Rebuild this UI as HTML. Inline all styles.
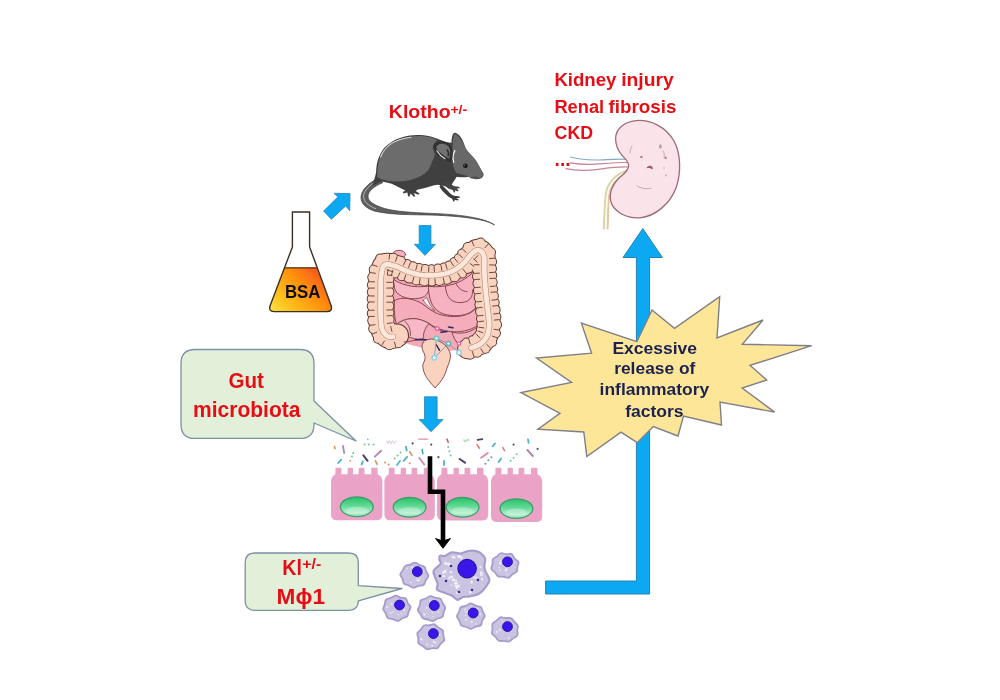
<!DOCTYPE html>
<html lang="en">
<head>
<meta charset="utf-8">
<title>Klotho gut microbiota kidney injury diagram</title>
<style>
  html, body { margin: 0; padding: 0; background: #ffffff; }
  body { width: 1000px; height: 700px; overflow: hidden; }
  svg { display: block; }
  text { font-family: "Liberation Sans", sans-serif; font-weight: bold; }
  .red { fill: #e60f14; }
  .navy { fill: #1b2350; }
</style>
</head>
<body>
<svg width="1000" height="700" viewBox="0 0 1000 700">
  <defs>
    <linearGradient id="liq" x1="0.05" y1="1" x2="1" y2="0.35">
      <stop offset="0" stop-color="#ffe040"/>
      <stop offset="0.3" stop-color="#ffbb18"/>
      <stop offset="0.65" stop-color="#ff8f0e"/>
      <stop offset="1" stop-color="#f9541a"/>
    </linearGradient>
    <linearGradient id="nuc" x1="0" y1="0" x2="0" y2="1">
      <stop offset="0" stop-color="#27c268"/>
      <stop offset="0.45" stop-color="#62d996"/>
      <stop offset="0.8" stop-color="#b4eecd"/>
      <stop offset="1" stop-color="#8fe3b5"/>
    </linearGradient>
    <filter id="soft" x="0" y="0" width="1000" height="700" filterUnits="userSpaceOnUse"><feGaussianBlur stdDeviation="0.55"/></filter>
  </defs>
  <rect width="1000" height="700" fill="#ffffff"/>
  <g id="art" filter="url(#soft)">

  <!-- ===== big blue L arrow (behind starburst) ===== -->
  <g id="bigarrow">
    <path d="M545.6,581 H636.4 V257.5 H623 L642.8,228.6 L662.4,257.5 H649.6 V594 H545.6 Z" fill="#0da8f2" stroke="#2683b6" stroke-width="1"/>
  </g>

  <!-- ===== starburst ===== -->
  <g id="burst">
    <polygon points="652,310 674.5,328.3 719.7,296.7 717,338 763,320 742.3,344.3 811.7,345.7 750,365.4 766.7,380 742.1,388 774.6,412.1 720,402 721.5,425 683.5,416 678,436 653.3,426.6 637.2,442.7 621,432.2 586.8,456.6 583.8,432 538,429.1 560,413.4 521,392.5 571.6,382.5 536.5,358 591.6,353.2 581.4,323.1 636.9,341.7" fill="#fee699" stroke="#7f7f88" stroke-width="1.4" stroke-linejoin="miter"/>
    <g class="navy" font-size="17.3">
      <text x="612.4" y="353.8" textLength="84.6" lengthAdjust="spacingAndGlyphs">Excessive</text>
      <text x="614.2" y="374.2" textLength="81.2" lengthAdjust="spacingAndGlyphs">release of</text>
      <text x="599.6" y="395.2" textLength="109.6" lengthAdjust="spacingAndGlyphs">inflammatory</text>
      <text x="625.2" y="416.5" textLength="58.4" lengthAdjust="spacingAndGlyphs">factors</text>
    </g>
  </g>

  <!-- ===== small blue arrows ===== -->
  <g id="arrows" fill="#0da8f2" stroke="#2683b6" stroke-width="0.8" stroke-linejoin="miter">
    <path d="M323.6,211 L337.8,197 L334,193.3 L350,193.6 L349.7,210.7 L345.7,206 L331.4,219.2 Z"/>
    <path d="M419.2,225.6 H430.9 V244.3 H435.4 L425,255.4 L414.3,244.3 H419.2 Z"/>
    <path d="M424.5,396.8 H437.1 V419.6 H443 L431,431.7 L419.2,419.6 H424.5 Z"/>
  </g>

  <!-- ===== flask ===== -->
  <g id="flask">
    <path d="M284.4,267.6 H316.6 L331.3,306 Q332.5,311.6 327,311.6 H274 Q268.7,311.6 270,306 Z" fill="url(#liq)"/>
    <path d="M292.4,212 H309.6 V247 L331.3,306 Q332.5,311.6 327,311.6 H274 Q268.7,311.6 270,306 L292.4,247 Z" fill="none" stroke="#3a2f22" stroke-width="1.4" stroke-linejoin="round"/>
    <path d="M284.4,267.8 H316.6" stroke="#4a3418" stroke-width="1.2" fill="none"/>
    <text x="302.7" y="297.7" font-size="19" text-anchor="middle" fill="#111111" textLength="35.5" lengthAdjust="spacingAndGlyphs">BSA</text>
  </g>

  <!-- ===== callouts ===== -->
  <g id="callouts" fill="#e2f0d9" stroke="#7b90a6" stroke-width="1.3" stroke-linejoin="round">
    <path d="M195,349.5 H300 Q314,349.5 314,363.5 V401 L356,441 L314,423 V424.4 Q314,438.4 300,438.4 H195 Q181,438.4 181,424.4 V363.5 Q181,349.5 195,349.5 Z"/>
    <path d="M254.8,553 H348.7 Q358.3,553 358.3,562.6 V585.6 L402,588.5 L358.3,600.8 V600.8 Q358.3,610.3 348.7,610.3 H254.8 Q245.2,610.3 245.2,600.7 V562.6 Q245.2,553 254.8,553 Z"/>
  </g>

  <!-- ===== red labels ===== -->
  <g id="labels" class="red">
    <text x="228.4" y="387.8" font-size="21.6" textLength="35.4" lengthAdjust="spacingAndGlyphs">Gut</text>
    <text x="193" y="417.2" font-size="22.4" textLength="107.4" lengthAdjust="spacingAndGlyphs">microbiota</text>
    <text x="388.8" y="118.4" font-size="19.2" textLength="61.8" lengthAdjust="spacingAndGlyphs">Klotho</text>
    <text x="450.4" y="113.8" font-size="13.6" textLength="16.8" lengthAdjust="spacingAndGlyphs">+/-</text>
    <text x="554.4" y="85.6" font-size="17.6" textLength="62" lengthAdjust="spacingAndGlyphs">Kidney</text>
    <text x="621.2" y="85.6" font-size="17.6" textLength="52.6" lengthAdjust="spacingAndGlyphs">injury</text>
    <text x="554.4" y="112.7" font-size="17.6" textLength="49.8" lengthAdjust="spacingAndGlyphs">Renal</text>
    <text x="608.6" y="112.7" font-size="17.6" textLength="67.8" lengthAdjust="spacingAndGlyphs">fibrosis</text>
    <text x="554.6" y="139.2" font-size="17.6" textLength="38.4" lengthAdjust="spacingAndGlyphs">CKD</text>
    <text x="554.6" y="166" font-size="20" textLength="16" lengthAdjust="spacingAndGlyphs">...</text>
    <text x="282.3" y="575.2" font-size="21.4" textLength="19.6" lengthAdjust="spacingAndGlyphs">Kl</text>
    <text x="302.3" y="569.4" font-size="14.6" textLength="19" lengthAdjust="spacingAndGlyphs">+/-</text>
    <text x="276.6" y="603.7" font-size="21.4" textLength="48.4" lengthAdjust="spacingAndGlyphs">Mϕ1</text>
  </g>

  <!-- MOUSE:begin -->
<g id="mouse">
  <!-- tail -->
  <path d="M377.5,178.5 C369,183 361.5,189.5 361,197 C360.8,203.5 366,208.5 375,211.2 C392,215 412,214.6 430,215 C450,215.5 470,217.4 483.5,220.6 C488,221.8 492,223.4 494.6,225 C491,222.6 487,221 483,219.8 C470,216 450,214 431.5,213.4 C412,212.6 396,211.6 384.6,208.5 C375,205.6 368,201.8 368,196.6 C368,191 374,186.4 383,182.5 Z" fill="#5e5e5e" stroke="#4a4a4a" stroke-width="0.8"/>
  <path d="M374,182.8 C367,187.4 363.5,192 363.6,197 C364,202 368.4,206 376,208.8" fill="none" stroke="#bdbdbd" stroke-width="0.9"/>
  <!-- dark silhouette -->
  <path d="M372,186.5 C374,180 375.5,176 376,172.5 C376.4,166 377,162 378.6,158 C380.6,153 382.6,150 384.6,147.6 C387.6,144.4 390.6,142.4 394,140.4 C398,138.4 402,137.2 406,136.2 C411,135.2 416,135 420.4,135 C425,135.2 429,136 432.4,137 C436,138.2 439,139.4 442,140.6 C446,142 449,142.8 451.4,142.8 C451.6,139 452,136.4 452.8,134.6 C453.4,133 454.4,132.6 455.4,132.8 C457.4,133.6 459,135 460.2,136.4 C461.8,138.4 463,140.8 463.8,143.2 C464.6,145.2 465.2,147.2 466,149 C468,152 470.6,154.6 473.2,157.4 C475.2,159.6 476.8,162 478,164.6 C479.6,167.6 481.8,170.6 483.4,173.6 C484,175.4 483,177 481.6,178 C479.4,179.2 476.8,179.4 474.4,179 C472.2,178.6 470.2,177.8 468.4,176.8 C464.4,177.6 460.4,177.4 456.8,176.8 L452,184 L449,188 C451,190.8 448.6,188.8 446.4,186.8 C443.4,185.6 440.4,185 437.2,184.8 C434,185.2 430.8,186.2 427.6,187.2 C424.4,188.2 421.2,189 418,189.6 L415.6,191 L419.6,193.6 L418.6,194.8 L413.6,193 L415.4,196.2 L413.8,196.8 L410.6,193.6 L409.6,196.6 L408,196.2 L407.4,192.6 L403.4,193.6 L402.8,192 L405.4,190.4 C404,189.6 402.6,189 401.2,188.4 C398,186.8 394.8,185 391.6,183.8 C388.4,182.6 385.2,181.8 382,181.4 C378.6,182.4 375.2,184.2 372,186.5 Z" fill="#414141"/>
  <!-- front legs -->
  <path d="M441,184.5 C444,186.5 447,190 450,193.2 C451.6,194.8 453,195.6 454.4,195.8 L459.6,196.6 L460,197.8 L456.2,198.2 L458.8,199.6 L458.2,200.6 L454.4,199.8 L454.6,201.6 L453.4,201.6 L452,198.6 C449.6,197.6 447,195.4 445,193.4 C442.6,191 440.6,188.6 439.4,186.4 Z" fill="#3a3a3a"/>
  <path d="M446,180.4 C448.6,181.6 450.6,183.6 452.6,185.2 C454.2,186.2 455.8,186.6 457.4,186.6 L459.6,187 L459.6,188.2 L456.8,188.6 L458.6,190.4 L457.8,191.4 L455,190.2 L455.2,192.2 L454,192.4 L452.6,190 C450.4,189.4 448.4,188.2 446.6,186.8 C444.8,185.4 443.4,183.8 442.6,182.2 Z" fill="#444444"/>
  <!-- light body -->
  <path d="M377.4,177 C377.2,170.6 377.8,164.8 379.2,159.8 C380.8,155 383,151.4 385.6,148.4 C388.4,145.4 391.6,143 395.2,141.2 C399,139.2 403,138 407.2,137 C411.6,136.2 416,136 420.4,136 C424.2,136.2 427.8,136.8 431.2,137.6 C433.4,138.4 435.4,139.4 437.2,140.6 C434.8,142.2 433.4,144.2 433,146.6 C432.8,149 434,151.4 434.8,153.8 C434.6,156.4 433.6,158.8 432.4,161 C431.4,164 430.2,166.8 428.8,169.4 C426.8,171.8 424.4,173.8 421.6,175.4 C417.8,177.4 413.8,179 409.6,180.2 C404.4,181.2 399.2,181.6 394,181.4 C389.8,181.2 385.8,180.6 382,179.6 C380.4,178.8 378.8,178 377.4,177 Z" fill="#6c6c6c"/>
  <path d="M380.6,157 C382.6,151.6 386.4,147 391.6,143.4 C397,140.2 403.6,138.2 411,137.2" fill="none" stroke="#d6d6d6" stroke-width="1.1" stroke-linecap="round"/>
  <!-- head -->
  <path d="M452.8,143.4 C452.8,140 453.2,137.2 454,135.2 C454.6,134 455.4,133.8 456.2,134.4 C458.8,136.2 460.8,138.8 462.4,141.8 C463.4,144.4 464.6,146.8 466,149 C468.8,152.8 472.4,156 475.6,159.8 C478.4,164 480.8,168.8 482.8,173.6 C483,175.4 482.2,176.8 481,177.6 C478.6,178.8 475.8,179 473.2,178.6 C470.6,177.8 468.2,176.6 466,175.4 C462.8,174.8 459.6,174 456.4,173 C454.6,170.4 453.4,167.6 452.8,164.6 C452.2,157.6 452.2,150.4 452.8,143.4 Z" fill="#676767"/>
  <path d="M454.8,150.6 C452.8,154.6 452.6,158.6 453.8,162.4" fill="none" stroke="#f2f2f2" stroke-width="1.3" stroke-linecap="round"/>
  <path d="M470.8,178.2 C473.4,177 476.2,177 478.6,177.8" fill="none" stroke="#3a3a3a" stroke-width="0.8"/>
  <!-- front ear -->
  <path d="M433.4,147 C433.6,143.6 437.4,141 442.2,141.4 C447.6,141.8 451.6,145 452.4,149.8 C453,153.6 452.6,157.4 451.2,160.8 C450.4,162.2 449,162.4 447.8,161.6 C444.2,159.6 440.6,157.4 437.6,154.6 C435.2,152.4 433.4,149.8 433.4,147 Z" fill="#323232"/>
  <path d="M436.4,147.6 C436.8,145 439.6,143.4 442.8,143.8 C446.6,144.2 449.4,146.6 450,150 C450.4,153 450,156 449,158.6 C446,157 443,155 440.4,152.8 C438.2,151.2 436.4,149.4 436.4,147.6 Z" fill="#727272"/>
  <path d="M436.8,150.8 C438.8,154 441.6,156.8 445,158.8" fill="none" stroke="#e4e4e4" stroke-width="1.1" stroke-linecap="round"/>
  <path d="M447.2,150 C448.6,151.6 448.8,153.8 448.2,155.6" fill="none" stroke="#2c2c2c" stroke-width="1.6" stroke-linecap="round"/>
  <!-- eye -->
  <circle cx="465.4" cy="165.8" r="2.3" fill="#161616"/>
  <circle cx="464.8" cy="165.2" r="0.6" fill="#8a8a8a"/>
</g>

<!-- MOUSE:end -->
  <!-- INTESTINE:begin -->
<g id="smallint" stroke="#7a3f45" stroke-width="0.9" stroke-linejoin="round" stroke-linecap="round">
  <!-- base mass -->
  <path d="M389,272 C400,276 420,277 437,277 C452,277 468,268 478,258 L486,300 C486,315 486,332 474,344 C462,352 440,353 425,348 C412,346 396,342 391,330 Z" fill="#f4a9b8" stroke="none"/>
  <!-- bump --><ellipse cx="399" cy="254.5" rx="6.5" ry="4.2" fill="#f6b2c0"/>
  <!-- rectum -->
  <path d="M424.5,340.5 C421.5,344 421.4,347.5 423,351 C425.4,355 425.6,358 424.4,361 C422.6,364 422.4,367 423.4,370 C424.4,374 426,377 428,379.5 C430.6,383 433,385.6 435,388 C437.4,385.6 440,382.6 442,379.5 C444.4,376 446,372 447,368 C448.6,364 450,360.6 450.4,357 C450.6,354 449.8,351.6 448.5,349.5 C446,345 440,340 432,339 Z" fill="#f9d3bf"/>
  <!-- upper-left loop -->
  <path d="M393.6,279.5 C399,283.4 406,285.4 413,286.4 C419,287 425,286.6 428.4,286.2 C429.4,290 427.6,294 424.5,296.4 C420,299 412,299.4 405,297.6 C400,296 396.4,293 395,289.5 C394,286 393.6,282.6 393.6,279.5 Z" fill="#f7b9c6"/>
  <!-- right big loop -->
  <path d="M428.4,286.2 C436,287.4 444,286.6 452,284.6 C461,282 469,277 474.6,270.5 C477,280 478.4,290 478.6,300 C478,306 474,311 468,313.6 C460,316.6 449,316.4 441,313 C435,310 431,304 429.6,297 C428.8,293.4 428.4,289.8 428.4,286.2 Z" fill="#f6b2c0"/>
  <path d="M445.4,285.8 C445.6,291 447,296 450.6,299.6 C455,303 462,303.6 467.4,301 C471.4,298.6 473,294.6 472.6,290" fill="none"/>
  <path d="M456,283.4 C458,288 462,291.4 467,291.6" fill="none"/>
  <!-- white gap -->
  <path d="M423.4,300.4 C424.6,299 425.6,298 426.4,297.4 C428.6,302.6 431.4,307.4 435.2,311.2 C430.6,308.6 426.4,305 423.4,300.4 Z" fill="#ffffff" stroke-width="0.7"/>
  <!-- middle-left loop -->
  <path d="M394.4,300.6 C398,298.4 403,297.8 408,298.6 C414,299.6 419.6,301.6 424,305 C428,308.4 433,312 438.4,314 C446,316.6 455,317.4 463,315.6 C468,314.4 472.6,312 476,308.4 C478,314 478.6,320 477.6,325.6 C470,330.6 460,332.6 450,331.6 C442,330.6 435,327.6 429,323.6 C424,320.4 418,318.4 412,318.6 C406,319 400,321 396.4,324.6 C394.4,317 393.8,308.6 394.4,300.6 Z" fill="#f5adbc"/>
  <!-- lower-left loop -->
  <path d="M396.4,324.6 C400,321 406,319 412,318.6 C418,318.4 424,320.4 429,323.6 C425,328 423,333 423.4,338.6 C418,339.6 412,339 407.6,336 C403,333 399,329.4 396.4,324.6 Z" fill="#f7b9c6"/>
  <path d="M405,321.4 C409,325 411,330 410.4,335.4" fill="none"/>
  <!-- lower-right loop -->
  <path d="M452,332 C458,334 466,333.4 472,330.4 C475,329 477,327.4 478.4,325.4 C480,331 478.6,337 474.6,341 C470.6,344.6 465,346 459.6,345.6 C456,342 453,337 452,332 Z" fill="#f6b2c0"/>
  <path d="M429,323.6 C433,327.6 438,330 444,331.2" fill="none"/>
</g>
<g id="colon">
<g fill="none" stroke="#5b3a30" stroke-linecap="round" stroke-linejoin="round"><polyline points="397.0,335.5 395.1,336.1 393.2,336.7 391.2,337.0 389.2,336.9 387.4,336.0 385.9,334.8 384.5,333.3 383.3,331.7 382.5,329.9 381.8,328.0 381.4,326.0 381.2,324.1" stroke-width="24.1"/><polyline points="381.2,324.1 381.0,322.1 380.9,320.1 380.8,318.1 380.7,316.1 380.6,314.1 380.5,312.1 380.5,310.1 380.5,308.1 380.5,306.1 380.5,304.1 380.5,302.1 380.5,300.1" stroke-width="24.9"/><polyline points="380.5,300.1 380.6,298.1 380.6,296.1 380.6,294.1 380.6,292.1 380.6,290.1 380.6,288.1 380.6,286.1 380.6,284.1 380.6,282.1 380.7,280.1 380.9,278.1 381.1,276.1" stroke-width="24.8"/><polyline points="381.1,276.1 381.4,274.1 381.7,272.1 382.0,270.2 382.6,268.2 383.3,266.4 384.6,264.9 386.5,264.2 388.5,264.3 390.5,264.7 392.4,265.2 394.3,265.8 396.2,266.4" stroke-width="23.1"/><polyline points="396.2,266.4 398.1,267.1 399.9,267.9 401.7,268.8 403.5,269.7 405.3,270.5 407.2,271.2 409.1,271.9 411.0,272.5 412.9,273.0 414.8,273.6 416.8,274.1 418.7,274.5" stroke-width="20.6"/><polyline points="418.7,274.5 420.7,274.8 422.7,275.1 424.7,275.3 426.7,275.4 428.7,275.4 430.7,275.4 432.7,275.3 434.7,275.2 436.7,275.0 438.6,274.8 440.6,274.5 442.6,274.2" stroke-width="19.8"/><polyline points="442.6,274.2 444.6,273.8 446.5,273.3 448.4,272.8 450.3,272.1 452.1,271.3 453.9,270.4 455.6,269.4 457.3,268.3 459.0,267.2 460.6,266.0 462.1,264.7 463.6,263.4" stroke-width="20.7"/><polyline points="463.6,263.4 465.0,262.0 466.3,260.4 467.5,258.8 468.7,257.2 469.9,255.6 471.3,254.2 472.8,252.9 474.3,251.6 476.0,250.5 477.9,250.0 479.8,250.5 481.5,251.6" stroke-width="22.5"/><polyline points="481.5,251.6 482.8,253.1 483.6,254.9 484.1,256.9 484.3,258.9 484.4,260.9 484.4,262.9 484.3,264.9 484.3,266.9 484.3,268.9 484.4,270.9 484.4,272.9 484.6,274.9" stroke-width="22.8"/><polyline points="484.6,274.9 484.7,276.9 484.8,278.8 484.9,280.8 485.1,282.8 485.2,284.8 485.4,286.8 485.5,288.8 485.7,290.8 485.9,292.8 486.1,294.8 486.3,296.8 486.5,298.8" stroke-width="22.6"/><polyline points="486.5,298.8 486.7,300.8 487.0,302.7 487.2,304.7 487.4,306.7 487.6,308.7 487.9,310.7 488.1,312.7 488.3,314.7 488.6,316.7 488.8,318.6 489.0,320.6 489.2,322.6" stroke-width="22.9"/><polyline points="489.2,322.6 489.3,324.6 489.2,326.6 488.9,328.6 488.6,330.6 488.2,332.5 487.6,334.4 486.8,336.3 485.9,338.0 484.7,339.7 483.4,341.2 481.9,342.6 480.4,343.8" stroke-width="22.4"/><polyline points="480.4,343.8 478.7,344.9 476.9,345.8 475.1,346.5 473.2,347.2 471.3,347.8 469.3,348.3 467.4,348.9" stroke-width="20.7"/></g>
<g fill="#5b3a30"><circle cx="393.7" cy="328.3" r="5.0"/><circle cx="398.4" cy="343.3" r="5.0"/><circle cx="391.1" cy="328.9" r="5.0"/><circle cx="389.4" cy="345.2" r="5.0"/><circle cx="391.1" cy="328.0" r="5.0"/><circle cx="377.9" cy="338.7" r="5.0"/><circle cx="390.1" cy="325.3" r="5.0"/><circle cx="373.2" cy="328.8" r="5.0"/><circle cx="389.6" cy="319.6" r="5.0"/><circle cx="372.2" cy="320.6" r="5.0"/><circle cx="389.4" cy="312.7" r="5.0"/><circle cx="371.8" cy="313.4" r="5.0"/><circle cx="389.3" cy="306.1" r="5.0"/><circle cx="371.7" cy="306.0" r="5.0"/><circle cx="389.3" cy="299.2" r="5.0"/><circle cx="371.7" cy="298.9" r="5.0"/><circle cx="389.4" cy="292.1" r="5.0"/><circle cx="371.8" cy="292.1" r="5.0"/><circle cx="389.3" cy="285.1" r="5.0"/><circle cx="371.9" cy="285.0" r="5.0"/><circle cx="389.4" cy="278.9" r="5.0"/><circle cx="372.3" cy="277.2" r="5.0"/><circle cx="390.0" cy="272.7" r="5.0"/><circle cx="373.7" cy="269.6" r="5.0"/><circle cx="389.1" cy="271.4" r="5.0"/><circle cx="380.2" cy="258.4" r="5.0"/><circle cx="389.5" cy="272.1" r="5.0"/><circle cx="393.3" cy="257.8" r="5.0"/><circle cx="395.4" cy="273.5" r="5.0"/><circle cx="400.8" cy="260.7" r="5.0"/><circle cx="401.7" cy="276.2" r="5.0"/><circle cx="407.1" cy="264.0" r="5.0"/><circle cx="409.1" cy="278.6" r="5.0"/><circle cx="412.9" cy="266.3" r="5.0"/><circle cx="416.4" cy="280.4" r="5.0"/><circle cx="419.1" cy="268.1" r="5.0"/><circle cx="424.2" cy="281.4" r="5.0"/><circle cx="425.1" cy="269.1" r="5.0"/><circle cx="431.9" cy="281.6" r="5.0"/><circle cx="431.5" cy="269.2" r="5.0"/><circle cx="439.4" cy="281.0" r="5.0"/><circle cx="437.9" cy="268.6" r="5.0"/><circle cx="447.0" cy="279.8" r="5.0"/><circle cx="444.0" cy="267.4" r="5.0"/><circle cx="454.9" cy="277.2" r="5.0"/><circle cx="449.3" cy="265.4" r="5.0"/><circle cx="462.1" cy="273.4" r="5.0"/><circle cx="454.3" cy="262.1" r="5.0"/><circle cx="468.6" cy="268.6" r="5.0"/><circle cx="458.7" cy="258.3" r="5.0"/><circle cx="474.0" cy="262.4" r="5.0"/><circle cx="462.1" cy="253.6" r="5.0"/><circle cx="477.8" cy="258.6" r="5.0"/><circle cx="467.7" cy="247.1" r="5.0"/><circle cx="477.1" cy="257.8" r="5.0"/><circle cx="480.6" cy="242.6" r="5.0"/><circle cx="476.3" cy="257.6" r="5.0"/><circle cx="491.0" cy="252.3" r="5.0"/><circle cx="476.7" cy="261.9" r="5.0"/><circle cx="492.1" cy="261.8" r="5.0"/><circle cx="476.7" cy="268.9" r="5.0"/><circle cx="492.0" cy="268.8" r="5.0"/><circle cx="477.0" cy="276.3" r="5.0"/><circle cx="492.2" cy="275.4" r="5.0"/><circle cx="477.5" cy="283.4" r="5.0"/><circle cx="492.7" cy="282.3" r="5.0"/><circle cx="478.0" cy="290.5" r="5.0"/><circle cx="493.2" cy="289.2" r="5.0"/><circle cx="478.7" cy="297.6" r="5.0"/><circle cx="493.9" cy="296.0" r="5.0"/><circle cx="479.4" cy="304.6" r="5.0"/><circle cx="494.7" cy="302.8" r="5.0"/><circle cx="480.1" cy="311.5" r="5.0"/><circle cx="495.6" cy="309.9" r="5.0"/><circle cx="481.0" cy="318.6" r="5.0"/><circle cx="496.4" cy="316.7" r="5.0"/><circle cx="481.5" cy="324.5" r="5.0"/><circle cx="497.1" cy="324.7" r="5.0"/><circle cx="480.9" cy="329.8" r="5.0"/><circle cx="495.9" cy="333.3" r="5.0"/><circle cx="479.5" cy="334.2" r="5.0"/><circle cx="492.2" cy="341.9" r="5.0"/><circle cx="476.8" cy="337.6" r="5.0"/><circle cx="485.5" cy="348.8" r="5.0"/><circle cx="472.7" cy="340.3" r="5.0"/><circle cx="477.4" cy="352.8" r="5.0"/><circle cx="466.6" cy="342.5" r="5.0"/><circle cx="470.1" cy="354.7" r="5.0"/></g>
<g fill="none" stroke="#f9d3bf" stroke-linecap="round" stroke-linejoin="round"><polyline points="397.0,335.5 395.1,336.1 393.2,336.7 391.2,337.0 389.2,336.9 387.4,336.0 385.9,334.8 384.5,333.3 383.3,331.7 382.5,329.9 381.8,328.0 381.4,326.0 381.2,324.1" stroke-width="22.1"/><polyline points="381.2,324.1 381.0,322.1 380.9,320.1 380.8,318.1 380.7,316.1 380.6,314.1 380.5,312.1 380.5,310.1 380.5,308.1 380.5,306.1 380.5,304.1 380.5,302.1 380.5,300.1" stroke-width="22.9"/><polyline points="380.5,300.1 380.6,298.1 380.6,296.1 380.6,294.1 380.6,292.1 380.6,290.1 380.6,288.1 380.6,286.1 380.6,284.1 380.6,282.1 380.7,280.1 380.9,278.1 381.1,276.1" stroke-width="22.8"/><polyline points="381.1,276.1 381.4,274.1 381.7,272.1 382.0,270.2 382.6,268.2 383.3,266.4 384.6,264.9 386.5,264.2 388.5,264.3 390.5,264.7 392.4,265.2 394.3,265.8 396.2,266.4" stroke-width="21.1"/><polyline points="396.2,266.4 398.1,267.1 399.9,267.9 401.7,268.8 403.5,269.7 405.3,270.5 407.2,271.2 409.1,271.9 411.0,272.5 412.9,273.0 414.8,273.6 416.8,274.1 418.7,274.5" stroke-width="18.6"/><polyline points="418.7,274.5 420.7,274.8 422.7,275.1 424.7,275.3 426.7,275.4 428.7,275.4 430.7,275.4 432.7,275.3 434.7,275.2 436.7,275.0 438.6,274.8 440.6,274.5 442.6,274.2" stroke-width="17.8"/><polyline points="442.6,274.2 444.6,273.8 446.5,273.3 448.4,272.8 450.3,272.1 452.1,271.3 453.9,270.4 455.6,269.4 457.3,268.3 459.0,267.2 460.6,266.0 462.1,264.7 463.6,263.4" stroke-width="18.7"/><polyline points="463.6,263.4 465.0,262.0 466.3,260.4 467.5,258.8 468.7,257.2 469.9,255.6 471.3,254.2 472.8,252.9 474.3,251.6 476.0,250.5 477.9,250.0 479.8,250.5 481.5,251.6" stroke-width="20.5"/><polyline points="481.5,251.6 482.8,253.1 483.6,254.9 484.1,256.9 484.3,258.9 484.4,260.9 484.4,262.9 484.3,264.9 484.3,266.9 484.3,268.9 484.4,270.9 484.4,272.9 484.6,274.9" stroke-width="20.8"/><polyline points="484.6,274.9 484.7,276.9 484.8,278.8 484.9,280.8 485.1,282.8 485.2,284.8 485.4,286.8 485.5,288.8 485.7,290.8 485.9,292.8 486.1,294.8 486.3,296.8 486.5,298.8" stroke-width="20.6"/><polyline points="486.5,298.8 486.7,300.8 487.0,302.7 487.2,304.7 487.4,306.7 487.6,308.7 487.9,310.7 488.1,312.7 488.3,314.7 488.6,316.7 488.8,318.6 489.0,320.6 489.2,322.6" stroke-width="20.9"/><polyline points="489.2,322.6 489.3,324.6 489.2,326.6 488.9,328.6 488.6,330.6 488.2,332.5 487.6,334.4 486.8,336.3 485.9,338.0 484.7,339.7 483.4,341.2 481.9,342.6 480.4,343.8" stroke-width="20.4"/><polyline points="480.4,343.8 478.7,344.9 476.9,345.8 475.1,346.5 473.2,347.2 471.3,347.8 469.3,348.3 467.4,348.9" stroke-width="18.7"/></g>
<g fill="#f9d3bf"><circle cx="393.7" cy="328.3" r="4.0"/><circle cx="398.4" cy="343.3" r="4.0"/><circle cx="391.1" cy="328.9" r="4.0"/><circle cx="389.4" cy="345.2" r="4.0"/><circle cx="391.1" cy="328.0" r="4.0"/><circle cx="377.9" cy="338.7" r="4.0"/><circle cx="390.1" cy="325.3" r="4.0"/><circle cx="373.2" cy="328.8" r="4.0"/><circle cx="389.6" cy="319.6" r="4.0"/><circle cx="372.2" cy="320.6" r="4.0"/><circle cx="389.4" cy="312.7" r="4.0"/><circle cx="371.8" cy="313.4" r="4.0"/><circle cx="389.3" cy="306.1" r="4.0"/><circle cx="371.7" cy="306.0" r="4.0"/><circle cx="389.3" cy="299.2" r="4.0"/><circle cx="371.7" cy="298.9" r="4.0"/><circle cx="389.4" cy="292.1" r="4.0"/><circle cx="371.8" cy="292.1" r="4.0"/><circle cx="389.3" cy="285.1" r="4.0"/><circle cx="371.9" cy="285.0" r="4.0"/><circle cx="389.4" cy="278.9" r="4.0"/><circle cx="372.3" cy="277.2" r="4.0"/><circle cx="390.0" cy="272.7" r="4.0"/><circle cx="373.7" cy="269.6" r="4.0"/><circle cx="389.1" cy="271.4" r="4.0"/><circle cx="380.2" cy="258.4" r="4.0"/><circle cx="389.5" cy="272.1" r="4.0"/><circle cx="393.3" cy="257.8" r="4.0"/><circle cx="395.4" cy="273.5" r="4.0"/><circle cx="400.8" cy="260.7" r="4.0"/><circle cx="401.7" cy="276.2" r="4.0"/><circle cx="407.1" cy="264.0" r="4.0"/><circle cx="409.1" cy="278.6" r="4.0"/><circle cx="412.9" cy="266.3" r="4.0"/><circle cx="416.4" cy="280.4" r="4.0"/><circle cx="419.1" cy="268.1" r="4.0"/><circle cx="424.2" cy="281.4" r="4.0"/><circle cx="425.1" cy="269.1" r="4.0"/><circle cx="431.9" cy="281.6" r="4.0"/><circle cx="431.5" cy="269.2" r="4.0"/><circle cx="439.4" cy="281.0" r="4.0"/><circle cx="437.9" cy="268.6" r="4.0"/><circle cx="447.0" cy="279.8" r="4.0"/><circle cx="444.0" cy="267.4" r="4.0"/><circle cx="454.9" cy="277.2" r="4.0"/><circle cx="449.3" cy="265.4" r="4.0"/><circle cx="462.1" cy="273.4" r="4.0"/><circle cx="454.3" cy="262.1" r="4.0"/><circle cx="468.6" cy="268.6" r="4.0"/><circle cx="458.7" cy="258.3" r="4.0"/><circle cx="474.0" cy="262.4" r="4.0"/><circle cx="462.1" cy="253.6" r="4.0"/><circle cx="477.8" cy="258.6" r="4.0"/><circle cx="467.7" cy="247.1" r="4.0"/><circle cx="477.1" cy="257.8" r="4.0"/><circle cx="480.6" cy="242.6" r="4.0"/><circle cx="476.3" cy="257.6" r="4.0"/><circle cx="491.0" cy="252.3" r="4.0"/><circle cx="476.7" cy="261.9" r="4.0"/><circle cx="492.1" cy="261.8" r="4.0"/><circle cx="476.7" cy="268.9" r="4.0"/><circle cx="492.0" cy="268.8" r="4.0"/><circle cx="477.0" cy="276.3" r="4.0"/><circle cx="492.2" cy="275.4" r="4.0"/><circle cx="477.5" cy="283.4" r="4.0"/><circle cx="492.7" cy="282.3" r="4.0"/><circle cx="478.0" cy="290.5" r="4.0"/><circle cx="493.2" cy="289.2" r="4.0"/><circle cx="478.7" cy="297.6" r="4.0"/><circle cx="493.9" cy="296.0" r="4.0"/><circle cx="479.4" cy="304.6" r="4.0"/><circle cx="494.7" cy="302.8" r="4.0"/><circle cx="480.1" cy="311.5" r="4.0"/><circle cx="495.6" cy="309.9" r="4.0"/><circle cx="481.0" cy="318.6" r="4.0"/><circle cx="496.4" cy="316.7" r="4.0"/><circle cx="481.5" cy="324.5" r="4.0"/><circle cx="497.1" cy="324.7" r="4.0"/><circle cx="480.9" cy="329.8" r="4.0"/><circle cx="495.9" cy="333.3" r="4.0"/><circle cx="479.5" cy="334.2" r="4.0"/><circle cx="492.2" cy="341.9" r="4.0"/><circle cx="476.8" cy="337.6" r="4.0"/><circle cx="485.5" cy="348.8" r="4.0"/><circle cx="472.7" cy="340.3" r="4.0"/><circle cx="477.4" cy="352.8" r="4.0"/><circle cx="466.6" cy="342.5" r="4.0"/><circle cx="470.1" cy="354.7" r="4.0"/></g>
<polyline points="393.2,336.7 391.2,337.0 389.2,336.9 387.4,336.0 385.9,334.8 384.5,333.3 383.3,331.7 382.5,329.9 381.8,328.0 381.4,326.0 381.2,324.1 381.0,322.1 380.9,320.1 380.8,318.1 380.7,316.1 380.6,314.1 380.5,312.1 380.5,310.1 380.5,308.1 380.5,306.1 380.5,304.1 380.5,302.1 380.5,300.1 380.6,298.1 380.6,296.1 380.6,294.1 380.6,292.1 380.6,290.1 380.6,288.1 380.6,286.1 380.6,284.1 380.6,282.1 380.7,280.1 380.9,278.1 381.1,276.1 381.4,274.1 381.7,272.1 382.0,270.2 382.6,268.2 383.3,266.4 384.6,264.9 386.5,264.2 388.5,264.3 390.5,264.7 392.4,265.2 394.3,265.8 396.2,266.4 398.1,267.1 399.9,267.9 401.7,268.8 403.5,269.7 405.3,270.5 407.2,271.2 409.1,271.9 411.0,272.5 412.9,273.0 414.8,273.6 416.8,274.1 418.7,274.5 420.7,274.8 422.7,275.1 424.7,275.3 426.7,275.4 428.7,275.4 430.7,275.4 432.7,275.3 434.7,275.2 436.7,275.0 438.6,274.8 440.6,274.5 442.6,274.2 444.6,273.8 446.5,273.3 448.4,272.8 450.3,272.1 452.1,271.3 453.9,270.4 455.6,269.4 457.3,268.3 459.0,267.2 460.6,266.0 462.1,264.7 463.6,263.4 465.0,262.0 466.3,260.4 467.5,258.8 468.7,257.2 469.9,255.6 471.3,254.2 472.8,252.9 474.3,251.6 476.0,250.5 477.9,250.0 479.8,250.5 481.5,251.6 482.8,253.1 483.6,254.9 484.1,256.9 484.3,258.9 484.4,260.9 484.4,262.9 484.3,264.9 484.3,266.9 484.3,268.9 484.4,270.9 484.4,272.9 484.6,274.9 484.7,276.9 484.8,278.8 484.9,280.8 485.1,282.8 485.2,284.8 485.4,286.8 485.5,288.8 485.7,290.8 485.9,292.8 486.1,294.8 486.3,296.8 486.5,298.8 486.7,300.8 487.0,302.7 487.2,304.7 487.4,306.7 487.6,308.7 487.9,310.7 488.1,312.7 488.3,314.7 488.6,316.7 488.8,318.6 489.0,320.6 489.2,322.6 489.3,324.6 489.2,326.6 488.9,328.6 488.6,330.6 488.2,332.5 487.6,334.4 486.8,336.3 485.9,338.0 484.7,339.7 483.4,341.2 481.9,342.6 480.4,343.8 478.7,344.9 476.9,345.8 475.1,346.5 473.2,347.2 471.3,347.8" fill="none" stroke="#b98a78" stroke-width="6" stroke-linejoin="round" stroke-linecap="round"/>
<polyline points="393.2,336.7 391.2,337.0 389.2,336.9 387.4,336.0 385.9,334.8 384.5,333.3 383.3,331.7 382.5,329.9 381.8,328.0 381.4,326.0 381.2,324.1 381.0,322.1 380.9,320.1 380.8,318.1 380.7,316.1 380.6,314.1 380.5,312.1 380.5,310.1 380.5,308.1 380.5,306.1 380.5,304.1 380.5,302.1 380.5,300.1 380.6,298.1 380.6,296.1 380.6,294.1 380.6,292.1 380.6,290.1 380.6,288.1 380.6,286.1 380.6,284.1 380.6,282.1 380.7,280.1 380.9,278.1 381.1,276.1 381.4,274.1 381.7,272.1 382.0,270.2 382.6,268.2 383.3,266.4 384.6,264.9 386.5,264.2 388.5,264.3 390.5,264.7 392.4,265.2 394.3,265.8 396.2,266.4 398.1,267.1 399.9,267.9 401.7,268.8 403.5,269.7 405.3,270.5 407.2,271.2 409.1,271.9 411.0,272.5 412.9,273.0 414.8,273.6 416.8,274.1 418.7,274.5 420.7,274.8 422.7,275.1 424.7,275.3 426.7,275.4 428.7,275.4 430.7,275.4 432.7,275.3 434.7,275.2 436.7,275.0 438.6,274.8 440.6,274.5 442.6,274.2 444.6,273.8 446.5,273.3 448.4,272.8 450.3,272.1 452.1,271.3 453.9,270.4 455.6,269.4 457.3,268.3 459.0,267.2 460.6,266.0 462.1,264.7 463.6,263.4 465.0,262.0 466.3,260.4 467.5,258.8 468.7,257.2 469.9,255.6 471.3,254.2 472.8,252.9 474.3,251.6 476.0,250.5 477.9,250.0 479.8,250.5 481.5,251.6 482.8,253.1 483.6,254.9 484.1,256.9 484.3,258.9 484.4,260.9 484.4,262.9 484.3,264.9 484.3,266.9 484.3,268.9 484.4,270.9 484.4,272.9 484.6,274.9 484.7,276.9 484.8,278.8 484.9,280.8 485.1,282.8 485.2,284.8 485.4,286.8 485.5,288.8 485.7,290.8 485.9,292.8 486.1,294.8 486.3,296.8 486.5,298.8 486.7,300.8 487.0,302.7 487.2,304.7 487.4,306.7 487.6,308.7 487.9,310.7 488.1,312.7 488.3,314.7 488.6,316.7 488.8,318.6 489.0,320.6 489.2,322.6 489.3,324.6 489.2,326.6 488.9,328.6 488.6,330.6 488.2,332.5 487.6,334.4 486.8,336.3 485.9,338.0 484.7,339.7 483.4,341.2 481.9,342.6 480.4,343.8 478.7,344.9 476.9,345.8 475.1,346.5 473.2,347.2 471.3,347.8" fill="none" stroke="#fce8db" stroke-width="4.8" stroke-linejoin="round" stroke-linecap="round"/>
<path d="M390.7,326.5 L391.9,331.3 M395.7,346.8 L394.5,342.1 M381.8,345.1 L384.4,341.0 M372.3,334.0 L376.8,332.2 M392.2,322.8 L387.3,323.4 M370.2,325.3 L375.0,324.7 M391.9,315.6 L387.0,315.8 M369.5,316.6 L374.4,316.3 M391.7,309.9 L386.8,310.0 M369.3,310.3 L374.2,310.2 M391.7,302.2 L386.8,302.2 M369.3,301.9 L374.2,302.0 M391.8,296.2 L386.9,296.2 M369.4,295.9 L374.3,296.0 M391.7,288.0 L386.8,288.1 M369.5,288.1 L374.4,288.1 M391.7,282.4 L386.8,282.3 M369.6,281.7 L374.5,281.9 M392.1,275.6 L387.3,274.9 M370.6,272.6 L375.5,273.3 M392.5,271.7 L387.9,270.1 M372.6,264.8 L377.2,266.4 M387.4,274.2 L387.9,269.4 M389.6,254.4 L389.1,259.2 M391.5,275.0 L392.9,270.3 M397.1,256.6 L395.6,261.3 M397.8,277.1 L399.9,272.7 M405.6,260.5 L403.5,264.9 M404.1,279.6 L405.8,275.0 M410.3,262.8 L408.6,267.4 M412.6,282.0 L413.8,277.3 M417.1,265.1 L415.8,269.9 M419.4,283.3 L420.1,278.5 M422.0,266.3 L421.2,271.1 M428.6,284.0 L428.6,279.1 M428.8,266.8 L428.7,271.7 M435.3,283.8 L434.9,278.9 M434.0,266.6 L434.4,271.5 M444.2,282.8 L443.3,278.0 M441.0,265.6 L441.9,270.4 M451.2,281.2 L449.6,276.5 M445.7,264.4 L447.2,269.0 M460.4,277.2 L457.8,273.0 M450.9,261.6 L453.5,265.8 M466.3,273.4 L463.3,269.5 M454.8,258.6 L457.8,262.4 M473.9,266.4 L470.1,263.4 M458.7,254.4 L462.5,257.5 M477.4,262.2 L473.7,259.0 M462.5,249.1 L466.1,252.3 M471.9,241.2 L473.9,245.7 M474.6,259.2 L477.9,255.5 M488.3,244.0 L485.0,247.7 M494.4,258.2 L489.6,258.5 M474.3,264.7 L479.2,264.8 M494.4,265.0 L489.5,264.9 M474.5,273.4 L479.4,273.1 M494.4,272.3 L489.5,272.6 M474.8,279.5 L479.7,279.2 M494.8,278.2 L489.9,278.5 M475.4,287.6 L480.3,287.2 M495.3,286.1 L490.5,286.4 M475.9,293.7 L480.8,293.3 M495.8,291.9 L491.0,292.3 M476.7,301.9 L481.6,301.4 M496.7,299.6 L491.9,300.2 M477.3,307.9 L482.2,307.3 M497.5,305.6 L492.6,306.1 M478.2,315.9 L483.0,315.3 M498.4,313.4 L493.6,314.0 M478.9,321.6 L483.8,321.1 M499.2,319.6 L494.3,320.1 M478.9,327.2 L483.8,327.9 M499.0,330.0 L494.1,329.3 M478.2,331.1 L482.8,332.7 M497.0,337.8 L492.4,336.1 M476.5,334.5 L480.0,337.9 M490.3,347.9 L486.8,344.5 M483.4,352.9 L480.9,348.7 M468.8,339.2 L470.1,343.9 M473.8,356.3 L472.4,351.6" fill="none" stroke="#5b3a30" stroke-width="0.9" stroke-linecap="round"/>
</g><g id="gutmicrobes" fill="none" stroke-linecap="round">
  <path d="M436.5,338.3 L448.5,343.5 L459,352.5 M436.5,338.3 L434.3,357.8 L448.5,343.5" stroke="#6f88a8" stroke-width="0.7"/>
  <path d="M415.5,339.8 H426 M441,332.3 L447,331.5 M448.5,327 L453,327.8 M436.5,345 L439.5,350.3" stroke="#2a2a66" stroke-width="1.5"/>
  <path d="M404,342 C410,341.6 414,340.4 418,339.6" stroke="#5b3a30" stroke-width="0.8"/>
  <circle cx="437.3" cy="328.5" r="1.8" fill="#ffffff" stroke="#ec5fa8" stroke-width="1.4"/>
  <circle cx="459" cy="343.5" r="1.6" fill="#ffffff" stroke="#ec5fa8" stroke-width="1.3"/>
  <circle cx="436.5" cy="338.3" r="2.1" fill="#eafafa" stroke="#6cc8c8" stroke-width="1.5"/>
  <circle cx="448.5" cy="343.5" r="2.1" fill="#eafafa" stroke="#58b8b8" stroke-width="1.5"/>
  <circle cx="459" cy="352.5" r="2.3" fill="#f0fbff" stroke="#8fd0e6" stroke-width="1.5"/>
  <circle cx="434.3" cy="357.8" r="2.3" fill="#f0fbff" stroke="#8fd0e6" stroke-width="1.5"/>
</g>

<!-- INTESTINE:end -->
  <!-- KIDNEY:begin -->
<g id="kidney" stroke-linecap="round" stroke-linejoin="round">
  <!-- ureter -->
  <path d="M627,170.5 C617,173.5 609,181 606.4,191 C604.4,199 604.8,211 603.8,228.6" fill="none" stroke="#d9d6a4" stroke-width="2"/>
  <path d="M629.4,172.8 C620,175.5 612.4,182.6 609.8,192 C607.8,200 608.4,212 607.6,228.6" fill="none" stroke="#e3c7a8" stroke-width="2"/>
  <path d="M628.2,171.6 C618.4,174.6 610.8,181.8 608.1,191.5 C606.1,199.5 606.6,211.5 605.7,228.6" fill="none" stroke="#fbf5e6" stroke-width="1.2"/>
  <!-- vessels -->
  <path d="M570.5,157 C580,159.6 592,160.4 603,159.8 C612,159.4 621,158.8 629,159.4" fill="none" stroke="#86a9c8" stroke-width="1.2"/>
  <path d="M570,162.8 C580,164.6 592,164.6 603,163.6 C612,162.8 621,162.2 629,162.6" fill="none" stroke="#c68494" stroke-width="1.2"/>
  <path d="M566,168.6 C576,171 590,170.6 602,168.8 C612,167.4 621,166.6 629,167" fill="none" stroke="#c68494" stroke-width="1.2"/>
  <!-- body -->
  <path d="M615.6,139 C615.4,129 624,121.6 636,120.6 C651,119.4 666,127 674,141 C680.6,153 681.6,172 676,188 C670,204 655,216.4 640,217.8 C627,218.8 614,212 611,202 C608.6,193 612.6,184 619,178 C624,173.6 628.8,170.4 628.6,165.4 C628.2,160.4 624.6,158.6 621.4,154.6 C618,150.4 615.8,145 615.6,139 Z" fill="#fbe3ea" stroke="#9d6a79" stroke-width="1.3"/>
  <!-- details -->
  <g fill="none" stroke="#c9a0ad" stroke-width="0.9">
    <path d="M632,146 C630.6,148.6 630,151 630,153"/>
    <path d="M637,186 C641,188.6 646,189.4 651,188.4"/>
    <path d="M663,151 C664.4,153 664.6,155 664,157"/>
  </g>
  <g fill="#b07a8a" stroke="none">
    <ellipse cx="660.4" cy="146.4" rx="1.4" ry="2.2" fill="#b8a0b0"/>
    <circle cx="641.4" cy="157" r="1.2"/>
    <circle cx="665.6" cy="157.8" r="1.2"/>
    <circle cx="666" cy="175.4" r="0.9" fill="#c9a0ad"/>
    <circle cx="664" cy="168" r="0.8" fill="#c9a0ad"/>
    <path d="M646.4,168.4 C647,166 649.6,165 651.6,166.2 C652.8,167 653,168.6 652.4,169.6 C651,168 648.4,167.6 646.4,168.4 Z" fill="#a0566c"/>
  </g>
</g>

<!-- KIDNEY:end -->
  <!-- CELLS:begin -->
<g id="cells">
<g fill="#eaa3c7">
<path d="M331,514.2 V481 Q331.5,476.5 335.4,474.2 H378.0 Q381.9,476.5 382.4,481 V514.2 Q382.4,520.2 376.4,520.2 H337 Q331,520.2 331,514.2 Z"/>
<path d="M335.4,477 V468.8 Q335.4,467.8 336.4,467.8 H340.4 Q341.4,467.8 341.4,468.8 V477 Z"/>
<path d="M347.6,477 V468.8 Q347.6,467.8 348.6,467.8 H352.0 Q353.0,467.8 353.0,468.8 V477 Z"/>
<path d="M358.6,477 V468.8 Q358.6,467.8 359.6,467.8 H363.4 Q364.4,467.8 364.4,468.8 V477 Z"/>
<path d="M371.2,477 V468.8 Q371.2,467.8 372.2,467.8 H376.6 Q377.6,467.8 377.6,468.8 V477 Z"/>
<path d="M384.4,514.2 V481 Q384.9,476.5 388.79999999999995,474.2 H430.40000000000003 Q434.3,476.5 434.8,481 V514.2 Q434.8,520.2 428.8,520.2 H390.4 Q384.4,520.2 384.4,514.2 Z"/>
<path d="M388.7,477 V468.8 Q388.7,467.8 389.7,467.8 H393.6 Q394.6,467.8 394.6,468.8 V477 Z"/>
<path d="M400.7,477 V468.8 Q400.7,467.8 401.7,467.8 H405.0 Q406.0,467.8 406.0,468.8 V477 Z"/>
<path d="M411.5,477 V468.8 Q411.5,467.8 412.5,467.8 H416.2 Q417.2,467.8 417.2,468.8 V477 Z"/>
<path d="M423.8,477 V468.8 Q423.8,467.8 424.8,467.8 H429.1 Q430.1,467.8 430.1,468.8 V477 Z"/>
<path d="M437,514.6 V481 Q437.5,476.5 441.4,474.2 H483.8 Q487.7,476.5 488.2,481 V514.6 Q488.2,520.6 482.2,520.6 H443 Q437,520.6 437,514.6 Z"/>
<path d="M441.4,477 V468.8 Q441.4,467.8 442.4,467.8 H446.4 Q447.4,467.8 447.4,468.8 V477 Z"/>
<path d="M453.5,477 V468.8 Q453.5,467.8 454.5,467.8 H457.9 Q458.9,467.8 458.9,468.8 V477 Z"/>
<path d="M464.5,477 V468.8 Q464.5,467.8 465.5,467.8 H469.3 Q470.3,467.8 470.3,468.8 V477 Z"/>
<path d="M477.0,477 V468.8 Q477.0,467.8 478.0,467.8 H482.4 Q483.4,467.8 483.4,468.8 V477 Z"/>
<path d="M491,516 V481 Q491.5,476.5 495.4,474.2 H537.8000000000001 Q541.7,476.5 542.2,481 V516 Q542.2,522 536.2,522 H497 Q491,522 491,516 Z"/>
<path d="M495.4,477 V468.8 Q495.4,467.8 496.4,467.8 H500.4 Q501.4,467.8 501.4,468.8 V477 Z"/>
<path d="M507.5,477 V468.8 Q507.5,467.8 508.5,467.8 H511.9 Q512.9,467.8 512.9,468.8 V477 Z"/>
<path d="M518.5,477 V468.8 Q518.5,467.8 519.5,467.8 H523.3 Q524.3,467.8 524.3,468.8 V477 Z"/>
<path d="M531.0,477 V468.8 Q531.0,467.8 532.0,467.8 H536.4 Q537.4,467.8 537.4,468.8 V477 Z"/>
</g>
<ellipse cx="356.8" cy="506.8" rx="16.4" ry="9.8" fill="url(#nuc)" stroke="#3f9d6c" stroke-width="1.3"/>
<ellipse cx="356.8" cy="510.40000000000003" rx="11" ry="3.6" fill="#e4faee" opacity="0.35"/>
<ellipse cx="409.6" cy="507.3" rx="16.4" ry="9.8" fill="url(#nuc)" stroke="#3f9d6c" stroke-width="1.3"/>
<ellipse cx="409.6" cy="510.90000000000003" rx="11" ry="3.6" fill="#e4faee" opacity="0.35"/>
<ellipse cx="462.6" cy="507.3" rx="16.4" ry="9.8" fill="url(#nuc)" stroke="#3f9d6c" stroke-width="1.3"/>
<ellipse cx="462.6" cy="510.90000000000003" rx="11" ry="3.6" fill="#e4faee" opacity="0.35"/>
<ellipse cx="516.4" cy="508.6" rx="16.4" ry="9.8" fill="url(#nuc)" stroke="#3f9d6c" stroke-width="1.3"/>
<ellipse cx="516.4" cy="512.2" rx="11" ry="3.6" fill="#e4faee" opacity="0.35"/>
</g>
<!-- CELLS:end -->
  <!-- BACTERIA:begin -->
<g id="bacteria" stroke-linecap="round" fill="none">
<path d="M334.4,446.4 L335.1,448.6" stroke="#dd9257" stroke-width="1.6"/>
<path d="M343.0,445.8 L344.2,453.0" stroke="#b285b4" stroke-width="1.8"/>
<path d="M338.2,463.0 L341.2,459.6" stroke="#4fb3c4" stroke-width="1.8"/>
<path d="M363.4,455.4 L367.6,460.8" stroke="#4d3f6e" stroke-width="2.0"/>
<path d="M361.6,464.6 L362.8,461.4" stroke="#4fb3c4" stroke-width="1.8"/>
<path d="M374.8,456.6 L381.2,450.8" stroke="#b285b4" stroke-width="1.9"/>
<path d="M375.4,460.8 L377.2,464.4" stroke="#dd9257" stroke-width="1.6"/>
<path d="M397.0,465.0 L400.0,461.0" stroke="#4fb3c4" stroke-width="1.8"/>
<path d="M403.6,460.8 L407.2,456.8" stroke="#4fb3c4" stroke-width="1.8"/>
<path d="M406.0,446.6 L406.7,450.6" stroke="#4fb3c4" stroke-width="1.8"/>
<path d="M409.6,451.8 L412.0,455.4" stroke="#dd9257" stroke-width="1.6"/>
<path d="M418.8,439.2 L427.6,439.2" stroke="#d88fb2" stroke-width="1.2"/>
<path d="M422.2,449.6 L422.8,453.6" stroke="#4fb3c4" stroke-width="1.8"/>
<path d="M419.2,457.8 L424.4,464.6" stroke="#d88fb2" stroke-width="1.9"/>
<path d="M444.0,460.8 L444.0,465.0" stroke="#4fb3c4" stroke-width="1.8"/>
<path d="M447.0,439.2 L448.2,442.2" stroke="#c75a6e" stroke-width="1.6"/>
<path d="M477.6,439.9 L482.4,439.2" stroke="#4d3f6e" stroke-width="1.7"/>
<path d="M477.0,444.6 L479.4,448.2" stroke="#e2806a" stroke-width="1.6"/>
<path d="M459.6,459.0 L465.0,462.6" stroke="#4d3f6e" stroke-width="2.0"/>
<path d="M481.2,457.8 L487.8,453.0" stroke="#d88fb2" stroke-width="2.0"/>
<path d="M492.6,446.4 L495.0,443.5" stroke="#4fb3c4" stroke-width="1.8"/>
<path d="M498.6,462.0 L501.0,458.5" stroke="#4fb3c4" stroke-width="1.8"/>
<path d="M502.8,447.6 L504.6,450.6" stroke="#e2806a" stroke-width="1.6"/>
<path d="M528.0,439.4 L528.6,442.8" stroke="#4fb3c4" stroke-width="1.8"/>
<path d="M527.4,450.0 L532.8,456.0" stroke="#b285b4" stroke-width="2.0"/>
<path d="M386.5,441 l1.6,2.6 l1.2,-3 l1.8,3.2 l1.4,-3.2 l1.8,2.8 l1.6,-2.4" stroke="#cbb9e2" stroke-width="0.8"/>
<path d="M464,440 q1.5,2.6 2.6,0.6 q1.2,-2 2.2,-0.4" stroke="#b5dcc0" stroke-width="1.6"/>
<circle cx="353.2" cy="453.0" r="1.0" fill="#74c49a" stroke="none"/>
<circle cx="352.0" cy="456.6" r="1.0" fill="#74c49a" stroke="none"/>
<circle cx="350.2" cy="460.8" r="0.9" fill="#dd9257" stroke="none"/>
<circle cx="364.6" cy="444.6" r="1.0" fill="#74c49a" stroke="none"/>
<circle cx="368.8" cy="444.6" r="1.0" fill="#74c49a" stroke="none"/>
<circle cx="373.6" cy="444.6" r="1.0" fill="#74c49a" stroke="none"/>
<circle cx="367.8" cy="439.4" r="0.8" fill="#dd9257" stroke="none"/>
<circle cx="385.0" cy="462.6" r="1.0" fill="#dd9257" stroke="none"/>
<circle cx="388.6" cy="464.4" r="1.0" fill="#dd9257" stroke="none"/>
<circle cx="400.6" cy="452.4" r="1.0" fill="#74c49a" stroke="none"/>
<circle cx="397.6" cy="455.4" r="1.0" fill="#74c49a" stroke="none"/>
<circle cx="394.6" cy="458.4" r="1.0" fill="#74c49a" stroke="none"/>
<circle cx="412.6" cy="443.4" r="1.1" fill="#55505e" stroke="none"/>
<circle cx="409.6" cy="463.2" r="1.0" fill="#dd9257" stroke="none"/>
<circle cx="431.2" cy="444.6" r="1.1" fill="#55505e" stroke="none"/>
<circle cx="438.4" cy="457.2" r="1.1" fill="#55505e" stroke="none"/>
<circle cx="448.2" cy="447.0" r="1.0" fill="#74c49a" stroke="none"/>
<circle cx="449.4" cy="451.2" r="1.0" fill="#74c49a" stroke="none"/>
<circle cx="450.6" cy="455.4" r="1.0" fill="#74c49a" stroke="none"/>
<circle cx="491.4" cy="457.2" r="1.0" fill="#5aa596" stroke="none"/>
<circle cx="488.4" cy="460.2" r="1.0" fill="#5aa596" stroke="none"/>
<circle cx="485.4" cy="463.8" r="1.0" fill="#5aa596" stroke="none"/>
<circle cx="513.6" cy="444.6" r="1.1" fill="#55505e" stroke="none"/>
<circle cx="516.6" cy="454.2" r="1.0" fill="#74c49a" stroke="none"/>
<circle cx="513.6" cy="457.8" r="1.0" fill="#74c49a" stroke="none"/>
<circle cx="510.6" cy="460.8" r="1.0" fill="#74c49a" stroke="none"/>
<circle cx="537.6" cy="448.8" r="1.1" fill="#55505e" stroke="none"/>
</g>
<!-- BACTERIA:end -->
  <g id="bolt">
    <path d="M430,456.3 V491.8 H443 V541" fill="none" stroke="#000000" stroke-width="4.6" stroke-linejoin="miter"/>
    <path d="M435.6,538.6 L443,541 L450.4,538.6 L443,548.2 Z" fill="#000000" stroke="#000" stroke-width="1" stroke-linejoin="round"/>
  </g>
  <!-- MACROPHAGES:begin -->
<g id="macrophages">
<path d="M424.8,582.8 Q424.3,585.5 421.2,585.5 Q418.2,585.5 415.8,587.0 Q413.4,588.6 411.2,586.9 Q409.0,585.2 406.2,584.7 Q403.3,584.2 403.2,581.5 Q403.0,578.8 401.2,576.6 Q399.4,574.4 401.3,572.3 Q403.2,570.2 404.0,567.8 Q404.8,565.3 407.6,565.1 Q410.4,565.0 412.8,563.3 Q415.2,561.7 417.3,563.6 Q419.5,565.4 422.2,565.9 Q425.0,566.4 425.4,569.0 Q425.7,571.6 427.5,573.8 Q429.2,576.0 427.3,578.1 Q425.3,580.1 424.8,582.8 Z" fill="#cbc4e0" stroke="#a89ccb" stroke-width="1.8"/>
<circle cx="418.5" cy="580.2" r="1.2" fill="#ebe7f5"/>
<circle cx="411.9" cy="567.6" r="1.0" fill="#ebe7f5"/>
<circle cx="420.4" cy="578.2" r="0.7" fill="#ebe7f5"/>
<circle cx="423.6" cy="571.4" r="0.9" fill="#ebe7f5"/>
<circle cx="411.0" cy="582.7" r="0.8" fill="#ebe7f5"/>
<circle cx="416.6" cy="579.4" r="0.9" fill="#ebe7f5"/>
<circle cx="407.1" cy="568.6" r="0.8" fill="#ebe7f5"/>
<circle cx="417.3" cy="571.6" r="4.9" fill="#3b17e8" stroke="#2a10b0" stroke-width="1"/>
<path d="M516.7,560.2 Q519.3,561.6 518.2,564.2 Q517.1,566.7 517.3,569.3 Q517.4,571.9 514.7,572.9 Q512.1,573.9 510.5,576.3 Q508.9,578.6 506.1,577.5 Q503.4,576.3 500.6,576.7 Q497.7,577.1 496.5,574.7 Q495.4,572.2 493.0,570.7 Q490.5,569.1 491.7,566.6 Q492.9,564.1 492.5,561.5 Q492.2,558.9 494.7,557.8 Q497.3,556.7 499.0,554.5 Q500.8,552.4 503.5,553.5 Q506.2,554.5 509.2,553.9 Q512.2,553.2 513.1,556.0 Q514.0,558.7 516.7,560.2 Z" fill="#cbc4e0" stroke="#a89ccb" stroke-width="1.8"/>
<circle cx="500.2" cy="563.1" r="1.3" fill="#ebe7f5"/>
<circle cx="505.8" cy="570.6" r="1.1" fill="#ebe7f5"/>
<circle cx="507.2" cy="574.4" r="0.7" fill="#ebe7f5"/>
<circle cx="506.4" cy="569.3" r="1.2" fill="#ebe7f5"/>
<circle cx="500.1" cy="570.1" r="0.9" fill="#ebe7f5"/>
<circle cx="500.5" cy="560.9" r="0.8" fill="#ebe7f5"/>
<circle cx="499.4" cy="567.7" r="0.8" fill="#ebe7f5"/>
<circle cx="507.5" cy="561.8" r="4.9" fill="#3b17e8" stroke="#2a10b0" stroke-width="1"/>
<path d="M400.1,619.9 Q397.9,621.8 395.5,620.3 Q393.0,618.8 390.1,618.7 Q387.1,618.5 386.6,615.9 Q386.1,613.2 384.3,611.2 Q382.5,609.2 383.7,606.9 Q385.0,604.6 385.2,601.9 Q385.4,599.2 388.3,598.7 Q391.3,598.1 393.5,596.5 Q395.7,594.9 398.1,596.4 Q400.4,598.0 403.4,598.0 Q406.4,597.9 406.9,600.6 Q407.3,603.3 409.4,605.2 Q411.5,607.2 409.8,609.4 Q408.2,611.6 408.0,614.2 Q407.8,616.9 405.0,617.4 Q402.2,618.0 400.1,619.9 Z" fill="#cbc4e0" stroke="#a89ccb" stroke-width="1.8"/>
<circle cx="401.6" cy="614.0" r="0.8" fill="#ebe7f5"/>
<circle cx="390.8" cy="613.0" r="1.0" fill="#ebe7f5"/>
<circle cx="404.0" cy="610.0" r="1.1" fill="#ebe7f5"/>
<circle cx="387.2" cy="607.1" r="1.1" fill="#ebe7f5"/>
<circle cx="392.9" cy="611.6" r="0.8" fill="#ebe7f5"/>
<circle cx="391.5" cy="604.3" r="1.0" fill="#ebe7f5"/>
<circle cx="398.1" cy="614.8" r="0.8" fill="#ebe7f5"/>
<circle cx="399.5" cy="605" r="4.9" fill="#3b17e8" stroke="#2a10b0" stroke-width="1"/>
<path d="M435.0,620.0 Q432.9,621.8 430.4,620.5 Q428.0,619.3 425.1,619.0 Q422.3,618.8 421.5,616.3 Q420.6,613.9 418.8,611.8 Q417.0,609.8 418.7,607.6 Q420.4,605.4 420.3,602.6 Q420.1,599.7 423.1,599.3 Q426.1,598.9 428.2,597.1 Q430.3,595.3 432.8,596.7 Q435.2,598.0 438.1,598.2 Q441.0,598.3 441.7,600.8 Q442.5,603.4 444.2,605.4 Q446.0,607.4 444.6,609.7 Q443.3,612.0 443.2,614.8 Q443.2,617.5 440.1,617.9 Q437.1,618.2 435.0,620.0 Z" fill="#cbc4e0" stroke="#a89ccb" stroke-width="1.8"/>
<circle cx="429.9" cy="600.9" r="0.8" fill="#ebe7f5"/>
<circle cx="438.6" cy="612.0" r="0.8" fill="#ebe7f5"/>
<circle cx="424.4" cy="614.5" r="1.2" fill="#ebe7f5"/>
<circle cx="433.2" cy="616.9" r="0.7" fill="#ebe7f5"/>
<circle cx="432.3" cy="612.8" r="0.8" fill="#ebe7f5"/>
<circle cx="426.5" cy="607.9" r="0.9" fill="#ebe7f5"/>
<circle cx="434.3" cy="605.5" r="4.9" fill="#3b17e8" stroke="#2a10b0" stroke-width="1"/>
<path d="M459.8,609.4 Q460.2,606.7 463.2,606.5 Q466.2,606.3 468.5,604.4 Q470.7,602.4 473.0,604.3 Q475.3,606.2 478.4,606.3 Q481.4,606.4 481.9,609.1 Q482.3,611.8 484.0,614.0 Q485.6,616.1 483.7,618.2 Q481.8,620.3 481.7,623.1 Q481.5,625.8 478.5,626.0 Q475.5,626.2 473.3,627.9 Q471.1,629.6 468.8,628.1 Q466.4,626.6 463.6,626.3 Q460.8,625.9 460.3,623.3 Q459.9,620.7 458.0,618.6 Q456.1,616.5 457.7,614.3 Q459.3,612.1 459.8,609.4 Z" fill="#cbc4e0" stroke="#a89ccb" stroke-width="1.8"/>
<circle cx="480.3" cy="614.1" r="1.1" fill="#ebe7f5"/>
<circle cx="471.8" cy="621.8" r="1.1" fill="#ebe7f5"/>
<circle cx="475.8" cy="624.0" r="0.8" fill="#ebe7f5"/>
<circle cx="465.0" cy="609.5" r="1.0" fill="#ebe7f5"/>
<circle cx="466.2" cy="619.8" r="1.1" fill="#ebe7f5"/>
<circle cx="466.3" cy="612.0" r="1.0" fill="#ebe7f5"/>
<circle cx="465.4" cy="615.2" r="0.8" fill="#ebe7f5"/>
<circle cx="473.2" cy="613" r="4.9" fill="#3b17e8" stroke="#2a10b0" stroke-width="1"/>
<path d="M432.0,624.5 Q434.7,623.5 436.4,625.8 Q438.1,628.1 440.8,629.1 Q443.4,630.2 443.2,632.8 Q443.1,635.4 444.0,638.0 Q445.0,640.5 442.6,642.1 Q440.2,643.7 439.1,646.2 Q438.0,648.8 435.1,648.3 Q432.2,647.9 429.4,649.0 Q426.7,650.1 424.9,647.9 Q423.1,645.7 420.4,644.6 Q417.6,643.6 418.3,640.8 Q418.9,638.1 417.7,635.6 Q416.6,633.2 418.9,631.6 Q421.2,630.0 422.3,627.4 Q423.4,624.9 426.3,625.2 Q429.2,625.6 432.0,624.5 Z" fill="#cbc4e0" stroke="#a89ccb" stroke-width="1.8"/>
<circle cx="427.3" cy="644.3" r="0.9" fill="#ebe7f5"/>
<circle cx="433.9" cy="641.6" r="1.2" fill="#ebe7f5"/>
<circle cx="435.7" cy="642.8" r="0.9" fill="#ebe7f5"/>
<circle cx="434.0" cy="642.1" r="0.9" fill="#ebe7f5"/>
<circle cx="421.3" cy="639.0" r="1.3" fill="#ebe7f5"/>
<circle cx="432.2" cy="646.1" r="1.1" fill="#ebe7f5"/>
<circle cx="439.7" cy="634.7" r="1.0" fill="#ebe7f5"/>
<circle cx="433.4" cy="633.6" r="4.9" fill="#3b17e8" stroke="#2a10b0" stroke-width="1"/>
<path d="M501.1,641.0 Q498.3,641.5 497.1,639.1 Q495.8,636.8 493.5,635.3 Q491.1,633.8 492.0,631.3 Q492.8,628.8 492.3,626.2 Q491.7,623.6 494.2,622.3 Q496.7,621.0 498.4,618.8 Q500.1,616.7 502.9,617.5 Q505.7,618.2 508.5,617.9 Q511.4,617.5 512.8,619.8 Q514.2,622.1 516.3,623.8 Q518.5,625.4 517.7,627.9 Q516.9,630.4 517.6,633.1 Q518.2,635.8 515.6,637.0 Q512.9,638.2 511.1,640.2 Q509.4,642.3 506.7,641.4 Q503.9,640.6 501.1,641.0 Z" fill="#cbc4e0" stroke="#a89ccb" stroke-width="1.8"/>
<circle cx="502.4" cy="621.0" r="0.7" fill="#ebe7f5"/>
<circle cx="513.5" cy="626.6" r="0.7" fill="#ebe7f5"/>
<circle cx="508.7" cy="638.2" r="0.9" fill="#ebe7f5"/>
<circle cx="496.9" cy="631.9" r="1.1" fill="#ebe7f5"/>
<circle cx="499.9" cy="630.0" r="0.9" fill="#ebe7f5"/>
<circle cx="500.3" cy="629.8" r="0.9" fill="#ebe7f5"/>
<circle cx="507.5" cy="626.6" r="4.9" fill="#3b17e8" stroke="#2a10b0" stroke-width="1"/>
<path d="M440.1,555.7 C441.0,555.1 443.1,556.6 445.0,556.0 C446.9,555.4 449.1,552.7 451.7,552.3 C454.2,551.9 457.8,553.8 460.3,553.6 C462.9,553.5 464.9,551.9 467.0,551.4 C469.1,550.9 470.9,550.4 473.1,550.6 C475.3,550.8 478.0,551.4 480.0,552.7 C482.0,554.1 484.4,556.7 485.1,558.7 C485.8,560.8 484.4,563.0 484.4,565.0 C484.4,567.0 484.3,568.3 485.1,570.7 C485.9,573.1 489.1,576.9 489.4,579.3 C489.7,581.7 488.4,583.0 486.8,585.3 C485.2,587.6 482.9,591.1 480.0,593.0 C477.1,594.9 472.5,595.7 469.7,596.4 C466.9,597.1 465.0,596.4 463.0,597.0 C461.0,597.6 459.6,600.0 457.7,599.8 C455.8,599.6 454.0,596.8 451.7,595.6 C449.4,594.4 446.4,593.6 444.0,592.6 C441.6,591.6 438.2,591.1 437.1,589.6 C436.0,588.1 438.0,585.7 437.6,583.6 C437.2,581.5 435.6,579.1 435.0,577.0 C434.4,574.9 432.8,572.9 433.7,570.7 C434.6,568.5 439.7,565.8 440.6,563.9 C441.6,562.0 439.5,561.0 439.4,559.6 C439.3,558.2 439.2,556.3 440.1,555.7 Z" fill="#cbc4e0" stroke="#a89ccb" stroke-width="2.2" stroke-linejoin="round"/>
<ellipse cx="448.7" cy="564.1" rx="2.0" ry="1.6" fill="#f1eef8"/>
<ellipse cx="460.1" cy="556.8" rx="1.0" ry="1.2" fill="#f1eef8"/>
<ellipse cx="451.7" cy="576.7" rx="1.7" ry="1.3" fill="#f1eef8"/>
<ellipse cx="457.7" cy="592.9" rx="2.0" ry="0.9" fill="#f1eef8"/>
<ellipse cx="481.4" cy="575.2" rx="1.3" ry="1.0" fill="#f1eef8"/>
<ellipse cx="481.3" cy="573.0" rx="1.4" ry="1.7" fill="#f1eef8"/>
<ellipse cx="445.2" cy="571.4" rx="1.3" ry="1.6" fill="#f1eef8"/>
<ellipse cx="453.6" cy="557.4" rx="2.2" ry="1.1" fill="#f1eef8"/>
<ellipse cx="455.9" cy="580.8" rx="1.2" ry="0.9" fill="#f1eef8"/>
<ellipse cx="456.6" cy="588.1" rx="1.0" ry="1.4" fill="#f1eef8"/>
<ellipse cx="455.8" cy="583.2" rx="2.1" ry="1.2" fill="#f1eef8"/>
<ellipse cx="456.0" cy="586.0" rx="1.9" ry="0.9" fill="#f1eef8"/>
<ellipse cx="461.4" cy="557.8" rx="1.0" ry="1.5" fill="#f1eef8"/>
<ellipse cx="451.3" cy="585.0" rx="1.0" ry="0.8" fill="#f1eef8"/>
<ellipse cx="470.5" cy="592.0" rx="1.3" ry="1.5" fill="#f1eef8"/>
<ellipse cx="480.5" cy="567.0" rx="1.4" ry="1.1" fill="#f1eef8"/>
<ellipse cx="443.3" cy="572.5" rx="1.1" ry="1.5" fill="#f1eef8"/>
<ellipse cx="482.1" cy="579.2" rx="1.1" ry="1.1" fill="#f1eef8"/>
<ellipse cx="445.6" cy="563.3" rx="1.4" ry="1.6" fill="#f1eef8"/>
<ellipse cx="450.9" cy="572.3" rx="1.4" ry="1.0" fill="#f1eef8"/>
<ellipse cx="453.3" cy="557.1" rx="1.2" ry="0.8" fill="#f1eef8"/>
<ellipse cx="453.4" cy="579.8" rx="1.8" ry="1.5" fill="#f1eef8"/>
<ellipse cx="449.2" cy="578.1" rx="1.1" ry="1.6" fill="#f1eef8"/>
<ellipse cx="475.1" cy="577.5" rx="2.1" ry="0.9" fill="#f1eef8"/>
<ellipse cx="459.0" cy="556.5" rx="1.8" ry="1.5" fill="#f1eef8"/>
<ellipse cx="471.7" cy="582.1" rx="1.2" ry="1.6" fill="#f1eef8"/>
<ellipse cx="457.8" cy="586.2" rx="2.3" ry="1.6" fill="#f1eef8"/>
<ellipse cx="443.9" cy="576.2" rx="1.6" ry="1.1" fill="#f1eef8"/>
<circle cx="451" cy="566" r="1.3" fill="#3b2a9a"/>
<circle cx="446" cy="581" r="1.3" fill="#3b2a9a"/>
<circle cx="440" cy="576" r="1.3" fill="#3b2a9a"/>
<circle cx="459" cy="592" r="1.3" fill="#3b2a9a"/>
<circle cx="472" cy="590" r="1.3" fill="#3b2a9a"/>
<circle cx="478" cy="580" r="1.3" fill="#3b2a9a"/>
<circle cx="467.1" cy="568.6" r="9.2" fill="#3b17e8" stroke="#2a10b0" stroke-width="1.2"/>
</g>
<!-- MACROPHAGES:end -->
  </g>
</svg>
</body>
</html>
